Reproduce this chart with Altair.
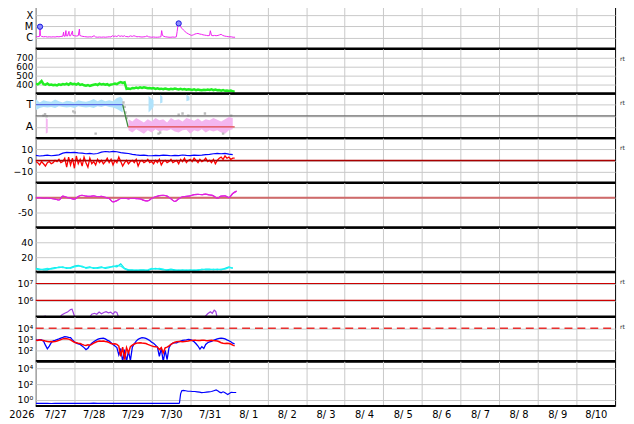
import json
import pandas as pd
import altair as alt

# ---------------- labels ----------------
DAY_LABELS = ["7/27", "7/28", "7/29", "7/30", "7/31", "8/ 1", "8/ 2", "8/ 3",
              "8/ 4", "8/ 5", "8/ 6", "8/ 7", "8/ 8", "8/ 9", "8/10"]
YEAR_LABEL = "2026"

# ---------------- panel 1: X-ray flux (units of 1e-6 W/m2) ----------------
XRAY = [(0.00, 1.2), (0.05, 1.25), (0.10, 1.3), (0.11, 9.6), (0.12, 1.6), (0.15, 1.3), (0.20, 1.2),
        (0.25, 1.25), (0.30, 1.15), (0.35, 1.2), (0.40, 1.15), (0.45, 1.2), (0.50, 1.15), (0.55, 1.25),
        (0.60, 1.2), (0.65, 1.3), (0.70, 1.35), (0.72, 3.1), (0.73, 1.4), (0.76, 1.35), (0.78, 4.3),
        (0.79, 1.5), (0.82, 1.4), (0.86, 3.7), (0.87, 1.5), (0.90, 1.45), (0.95, 4.0), (0.96, 1.6),
        (1.00, 1.5), (1.05, 1.4), (1.10, 1.5), (1.13, 6.0), (1.14, 1.6), (1.18, 1.4), (1.22, 1.3),
        (1.26, 1.25), (1.30, 1.2), (1.35, 1.15), (1.40, 1.2), (1.45, 1.15), (1.51, 1.5), (1.55, 1.15),
        (1.60, 1.1), (1.65, 1.15), (1.70, 1.1), (1.75, 1.15), (1.80, 1.1), (1.85, 1.15), (1.90, 1.2),
        (1.95, 1.15), (1.98, 1.5), (2.02, 1.3), (2.06, 1.4), (2.10, 1.25), (2.14, 1.6), (2.18, 1.3),
        (2.22, 1.45), (2.26, 1.3), (2.30, 1.5), (2.32, 1.3), (2.36, 1.25), (2.40, 1.2), (2.45, 1.45),
        (2.50, 1.3), (2.54, 1.5), (2.58, 1.35), (2.62, 1.2), (2.66, 1.25), (2.70, 1.2), (2.75, 1.15),
        (2.80, 1.2), (2.84, 1.25), (2.88, 1.45), (2.92, 1.2), (2.96, 1.15), (3.00, 1.1), (3.05, 1.15),
        (3.10, 1.1), (3.15, 1.1), (3.20, 1.15), (3.24, 1.2), (3.26, 4.3), (3.28, 1.6), (3.32, 1.3),
        (3.36, 1.2), (3.40, 1.15), (3.45, 1.1), (3.50, 1.1), (3.55, 1.15), (3.60, 1.1), (3.64, 1.2),
        (3.66, 3.5), (3.68, 12.0), (3.70, 19.0), (3.74, 11.0), (3.78, 7.0), (3.82, 5.0), (3.86, 3.7),
        (3.90, 2.8), (3.95, 2.2), (4.00, 1.8), (4.03, 1.6), (4.08, 1.8), (4.12, 2.1), (4.16, 2.3),
        (4.20, 2.4), (4.25, 2.1), (4.29, 2.0), (4.33, 1.8), (4.37, 1.7), (4.42, 1.6), (4.46, 1.5),
        (4.50, 1.6), (4.52, 4.2), (4.55, 1.6), (4.59, 1.5), (4.63, 1.6), (4.67, 1.5), (4.72, 1.6),
        (4.76, 1.8), (4.80, 2.0), (4.84, 1.6), (4.89, 1.4), (4.94, 1.3), (5.00, 1.2), (5.06, 1.2),
        (5.11, 1.1), (5.16, 1.1)]
FLARES = [(0.11, 9.6), (3.70, 19.0)]
XRAY_TICKS = [1, 10, 100]
XRAY_LABELS = ["C", "M", "X"]

# ---------------- panel 2: solar wind speed (every 0.05 day) ----------------
SPEED = [410, 402, 418, 440, 405, 398, 412, 395, 400, 392,
         398, 390, 402, 396, 405, 400, 410, 398, 415, 405,
         408, 400, 412, 396, 402, 392, 388, 395, 384, 392,
         398, 404, 395, 410, 400, 406, 398, 404, 392, 400,
         405, 412, 404, 420, 428, 418, 425, 352, 356, 350,
         362, 358, 366, 360, 368, 362, 370, 364, 358, 362,
         356, 360, 352, 358, 350, 354, 348, 355, 350, 346,
         352, 348, 355, 350, 346, 352, 344, 350, 342, 348,
         345, 340, 346, 338, 344, 340, 336, 342, 338, 344,
         340, 346, 338, 344, 336, 340, 332, 338, 330, 334,
         328, 332, 324, 320]
SPEED_TICKS = [400, 500, 600, 700]
SPEED_LABELS = ["400", "500", "600", "700"]

# ---------------- panel 3: IMF sector ----------------
SECTOR_TICKS = [-1, 0, 1]
SECTOR_LABELS = ["A", "", "T"]
TOWARD_T = [0.0, 0.1, 0.2, 0.3, 0.4, 0.5, 0.6, 0.7, 0.8, 0.9, 1.0, 1.1, 1.2, 1.3, 1.4, 1.5, 1.6,
            1.7, 1.8, 1.9, 2.0, 2.1, 2.2, 2.25]
TOWARD_HI = [1.5, 1.2, 1.4, 1.3, 1.25, 1.45, 1.3, 1.2, 1.35, 1.3, 1.2, 1.4, 1.3, 1.25, 1.35, 1.5,
             1.3, 1.45, 1.3, 1.4, 1.3, 1.6, 1.7, 1.5]
TOWARD_LO = [0.5, 0.7, 0.8, 0.75, 0.8, 0.7, 0.85, 0.8, 0.75, 0.8, 0.7, 0.85, 0.8, 0.75, 0.8, 0.7,
             0.85, 0.8, 0.9, 0.8, 0.75, 0.6, 0.4, 0.3]
TOWARD_EXTRA = [(2.92, 1.8, 0.3), (2.98, 1.6, 0.5), (3.05, 1.4, 0.8),
                (3.22, 1.9, 1.1), (3.28, 1.7, 1.2),
                (3.90, 1.9, 1.3), (3.98, 1.7, 1.4)]
AWAY_T = [2.4, 2.5, 2.6, 2.7, 2.8, 2.9, 3.0, 3.1, 3.2, 3.3, 3.4, 3.5, 3.6, 3.7, 3.8, 3.9, 4.0,
          4.1, 4.2, 4.3, 4.4, 4.5, 4.6, 4.7, 4.8, 4.9, 5.0, 5.1]
AWAY_HI = [-0.3, -0.5, -0.2, -0.4, -0.6, -0.3, -0.5, -0.2, -0.4, -0.3, -0.6, -0.2, -0.4, -0.3,
           -0.5, -0.2, -0.3, -0.45, -0.25, -0.5, -0.3, -0.4, -0.2, -0.35, -0.5, -0.3, -0.1, -0.2]
AWAY_LO = [-1.3, -1.5, -1.2, -1.4, -1.6, -1.3, -1.5, -1.2, -1.4, -1.3, -1.35, -1.2, -1.4, -1.5,
           -1.3, -1.25, -1.6, -1.3, -1.4, -1.2, -1.5, -1.3, -1.4, -1.3, -1.5, -1.6, -1.3, -1.2]
AWAY_EXTRA = [(0.26, -0.2, -1.6), (0.31, -0.3, -1.5)]
SECTOR_GRAY = [(0.20, 0.0), (0.24, 0.15), (0.28, -0.05), (0.97, 0.4), (1.01, 0.3), (1.55, -1.6),
               (2.27, 1.2), (2.30, 0.8), (2.32, 0.3), (2.35, -0.2), (3.18, -1.6), (3.22, -1.5),
               (3.70, 0.1), (3.80, 0.2), (3.95, 0.0), (4.38, 0.2), (4.85, -1.6), (5.06, 0.0)]
SECTOR_SWITCH = [2.25, 2.39]
DATA_END = 5.15

# ---------------- panel 4: Bt (0.1 day) and Bz (0.05 day) ----------------
BT = [4.5, 4.0, 4.3, 4.8, 4.2, 4.6, 5.0, 6.5, 7.2, 7.0,
      7.3, 6.8, 6.5, 6.0, 6.3, 5.8, 6.2, 7.5, 8.0, 7.6,
      8.2, 7.8, 7.0, 6.6, 6.2, 5.5, 5.0, 4.6, 4.8, 4.4,
      4.2, 4.6, 4.3, 4.8, 4.5, 4.2, 4.6, 4.4, 4.9, 4.5,
      4.3, 4.7, 4.5, 4.8, 5.2, 5.5, 6.0, 6.4, 6.0, 6.3,
      5.6, 5.2]
BZ = [-1, -2, -4, -1, -3, -5, -2, -1, -3, -2,
      0, -1, 1, -2, -1, 2, -6, 3, -4, 2,
      -7, 4, -3, 1, -5, 3, -2, -6, 2, -3,
      -1, -4, 1, -2, 0, -3, -1, 2, -2, 1,
      -4, 0, -2, 3, -1, -5, -2, 0, -3, -1,
      0, -2, 1, -5, -1, 0, -2, -1, 1, -2,
      -1, -3, 0, -2, 1, -4, -1, 0, -2, -1,
      1, -2, -1, 0, -3, 1, -1, 2, -2, 0,
      1, -1, 2, 0, -2, 1, -1, 0, 2, -1,
      0, -2, 1, -3, 0, 2, 3, 1, 4, 2,
      3, 1, 2, 2]
B_TICKS = [-10, 0, 10]
B_LABELS = ["\u221210", "0", "10"]

# ---------------- panel 5: Dst-like index (0.1 day) ----------------
DST = [-1, 0, -2, -1, -3, -5, -8, 5, 1, -2,
       -5, 4, 8, 5, 4, 6, 3, 4, 1, -3,
       -14, -10, -3, -2, -4, -2, -3, -4, -9, -11,
       -3, 3, 7, 8, 5, -4, -13, -4, 3, 4,
       6, 10, 11, 10, 12, 9, 6, -2, 5, 6,
       0, 14, 22]
DST_TICKS = [-50, 0]
DST_LABELS = ["-50", "0"]

# ---------------- panel 6: two cyan series (0.1 day) ----------------
CYAN_A = [5, 4, 3, 3, 5, 6, 6, 7, 5, 6,
          8, 9, 7, 6, 7, 5, 6, 7, 5, 6,
          8, 7, 11, 5, 3, 3, 2, 3, 3, 2,
          4, 5, 4, 3, 3, 4, 3, 2, 3, 2,
          3, 2, 3, 3, 4, 4, 3, 4, 3, 5,
          7, 5]
CYAN_B = [4, 3, 4, 5, 4, 5, 7, 6, 6, 5,
          7, 8, 8, 5, 6, 6, 5, 6, 6, 7,
          7, 9, 8, 4, 2, 2, 3, 2, 2, 3,
          5, 4, 5, 4, 2, 3, 2, 3, 2, 3,
          2, 3, 2, 4, 3, 3, 4, 3, 4, 4,
          6, 6]
CYAN_TICKS = [20, 40]
CYAN_LABELS = ["20", "40"]

# ---------------- panel 7: purple flux ----------------
PURPLE = [(0.00, 9e4), (0.15, 9e4), (0.20, 1.1e5), (0.25, 1.15e5), (0.30, 9e4), (0.60, 9e4),
          (0.68, 1.4e5), (0.75, 1.7e5), (0.82, 2.0e5), (0.90, 2.8e5), (0.94, 3.0e5), (0.98, 1.6e5),
          (1.02, 9e4), (1.38, 9e4), (1.45, 1.5e5), (1.52, 1.7e5), (1.58, 1.5e5), (1.64, 2.0e5),
          (1.70, 1.6e5), (1.76, 1.9e5), (1.82, 2.1e5), (1.88, 1.8e5), (1.94, 2.0e5), (2.00, 1.5e5),
          (2.05, 2.1e5), (2.10, 1.9e5), (2.15, 9e4), (2.80, 9e4), (2.85, 1.1e5), (2.90, 9e4),
          (4.35, 9e4), (4.45, 1.6e5), (4.52, 2.1e5), (4.57, 1.7e5), (4.62, 2.6e5), (4.66, 2.2e5),
          (4.70, 9e4), (5.15, 9e4)]
P7_THRESH = [1e6, 1e7]
P7_TICKS = [1e6, 1e7]
P7_LABELS = ["10\u2076", "10\u2077"]

# ---------------- panel 8: blue and red flux (0.05 day) ----------------
FLUX_BLUE = [900, 850, 950, 880, 700, 300, 140, 250, 500, 750,
             800, 950, 1100, 1300, 1500, 1750, 1700, 1500, 1450, 900,
             600, 450, 400, 350, 250, 180, 120, 160, 300, 450,
             600, 800, 1000, 1150, 1250, 1300, 1100, 850, 700, 500,
             350, 250, 180, 40, 150, 10, 120, 10, 90, 12,
             200, 400, 700, 1000, 1250, 1400, 1350, 1200, 1000, 800,
             550, 450, 300, 200, 30, 150, 10, 100, 15, 180,
             350, 450, 500, 480, 600, 700, 800, 850, 900, 1000,
             950, 800, 600, 400, 250, 130, 220, 150, 350, 500,
             600, 650, 800, 950, 1100, 1250, 1300, 1250, 1100, 900,
             750, 600, 450, 380]
FLUX_RED = [850, 800, 900, 820, 780, 700, 650, 600, 650, 620,
            640, 700, 800, 950, 1100, 1200, 1150, 1050, 900, 700,
            550, 500, 450, 420, 350, 300, 280, 320, 290, 350,
            450, 550, 650, 700, 680, 720, 650, 600, 500, 420,
            380, 400, 350, 250, 30, 200, 15, 180, 60, 220,
            300, 380, 450, 480, 500, 460, 450, 420, 350, 300,
            260, 230, 220, 200, 120, 180, 60, 170, 200, 260,
            350, 450, 550, 620, 650, 640, 600, 630, 680, 720,
            780, 800, 850, 820, 800, 780, 820, 850, 800, 760,
            800, 820, 780, 750, 700, 600, 500, 450, 420, 450,
            420, 380, 300, 260]
P8_THRESH = 1e4
P8_TICKS = [100, 1000, 10000]
P8_LABELS = ["10\u00b2", "10\u00b3", "10\u2074"]

# ---------------- panel 9: blue flux ----------------
LOWFLUX = [(0.0, 0.37), (0.1, 0.36), (0.2, 0.38), (0.3, 0.37), (0.4, 0.35), (0.5, 0.37), (0.6, 0.38),
           (0.7, 0.36), (0.8, 0.37), (0.9, 0.36), (1.0, 0.38), (1.1, 0.37), (1.2, 0.36), (1.3, 0.38),
           (1.4, 0.37), (1.5, 0.39), (1.6, 0.37), (1.7, 0.36), (1.8, 0.38), (1.9, 0.37), (2.0, 0.36),
           (2.1, 0.37), (2.2, 0.38), (2.3, 0.36), (2.4, 0.37), (2.5, 0.36), (2.6, 0.38), (2.7, 0.37),
           (2.8, 0.36), (2.9, 0.37), (3.0, 0.38), (3.1, 0.36), (3.2, 0.37), (3.3, 0.36), (3.4, 0.38),
           (3.5, 0.37), (3.6, 0.36), (3.7, 0.37), (3.72, 0.4), (3.75, 6), (3.78, 15), (3.82, 17),
           (3.88, 15), (3.94, 13), (4.00, 13), (4.06, 12), (4.12, 12), (4.18, 11), (4.24, 10),
           (4.29, 8.5), (4.35, 9), (4.42, 10), (4.48, 11), (4.55, 12), (4.61, 15), (4.67, 19),
           (4.72, 14), (4.76, 10), (4.80, 8), (4.85, 11), (4.89, 9), (4.94, 6), (4.97, 5),
           (5.02, 7), (5.06, 9.5), (5.12, 9), (5.19, 9)]
P9_TICKS = [1, 100, 10000]
P9_LABELS = ["10\u2070", "10\u00b2", "10\u2074"]

# ---------------- layout helpers ----------------
W, H = 584, 45
GRID = "#c8c8c8"
FONT = "DejaVu Sans"
ONE = pd.DataFrame({"k": [0]})
XS = alt.Scale(domain=[0, 15], nice=False, zero=False)


def label_expr(vals, labs):
    s = ""
    for v, l in zip(vals, labs):
        s += f"datum.value == {v} ? {json.dumps(l, ensure_ascii=False)} : "
    return s + "''"


def x_axis(bottom=False):
    if bottom:
        return alt.Axis(values=list(range(15)), grid=True, gridColor=GRID, ticks=False, domain=False,
                        labelExpr=json.dumps(DAY_LABELS) + "[datum.value]", labelOffset=19.5,
                        labelPadding=4, labelFlush=False, labelOverlap=False, labelAngle=0,
                        labelFontSize=10, title=None)
    return alt.Axis(values=list(range(15)), grid=True, gridColor=GRID, ticks=False, domain=False,
                    labels=False, title=None)


def y_axis(vals, labs, size=9.5):
    return alt.Axis(values=vals, labelExpr=label_expr(vals, labs), grid=True, gridColor=GRID,
                    ticks=False, domain=False, labelPadding=3, title=None, labelFlush=False,
                    labelOverlap=False, labelFontSize=size)


def series(times, values):
    return pd.DataFrame({"t": times, "v": values})


def step_times(n, step):
    return [round(step * i, 3) for i in range(n)]


def divider(width=2.5):
    return alt.Chart(ONE).mark_rule(color="black", strokeWidth=width).encode(
        x=alt.value(0), x2=alt.value(W), y=alt.value(H))


def rt():
    return alt.Chart(ONE).mark_text(text="rt", fontSize=6, align="left", baseline="middle",
                                    color="#222222").encode(x=alt.value(W + 5), y=alt.value(10))


def hline(scale, yax, value, color, width=1.0, dash=None):
    kw = dict(color=color, strokeWidth=width)
    if dash:
        kw["strokeDash"] = dash
    return alt.Chart(ONE).mark_rule(**kw).encode(
        x=alt.value(0), x2=alt.value(W),
        y=alt.YDatum(value, type="quantitative", scale=scale, axis=yax))


def line(df, scale, yax, xax, color, width=1.0, interp="linear"):
    return alt.Chart(df).mark_line(color=color, strokeWidth=width, clip=True, interpolate=interp).encode(
        x=alt.X("t:Q", scale=XS, axis=xax),
        y=alt.Y("v:Q", scale=scale, axis=yax))


XA = x_axis()

# ---------------- panel 1 ----------------
S1 = alt.Scale(type="log", domain=[0.1, 1000], nice=False)
Y1 = y_axis(XRAY_TICKS, XRAY_LABELS, 10)
xr = series([p[0] for p in XRAY], [p[1] for p in XRAY])
fl = series([p[0] for p in FLARES], [p[1] for p in FLARES])
p1 = alt.layer(
    line(xr, S1, Y1, XA, "#f020f0", 1.0),
    alt.Chart(fl).mark_circle(size=28, color="#8c8cff", stroke="#1a1add", strokeWidth=1, opacity=1).encode(
        x=alt.X("t:Q", scale=XS, axis=XA), y=alt.Y("v:Q", scale=S1, axis=Y1)),
    divider(),
).properties(width=W, height=H)

# ---------------- panel 2 ----------------
S2 = alt.Scale(domain=[300, 800], nice=False, zero=False)
Y2 = y_axis(SPEED_TICKS, SPEED_LABELS, 9)
sp = series(step_times(len(SPEED), 0.05), SPEED)
p2 = alt.layer(
    line(sp, S2, Y2, XA, "#22ee22", 2.5),
    divider(), rt(),
).properties(width=W, height=H)

# ---------------- panel 3 ----------------
S3 = alt.Scale(domain=[-2, 2], nice=False, zero=False)
Y3 = y_axis(SECTOR_TICKS, SECTOR_LABELS, 11)
tow = pd.DataFrame({"t": TOWARD_T, "hi": TOWARD_HI, "lo": TOWARD_LO, "g": 0})
tow_x = pd.DataFrame({"t": [e[0] for e in TOWARD_EXTRA], "hi": [e[1] for e in TOWARD_EXTRA],
                      "lo": [e[2] for e in TOWARD_EXTRA], "g": [1, 1, 1, 2, 2, 3, 3]})
tow_all = pd.concat([tow, tow_x], ignore_index=True)
away = pd.DataFrame({"t": AWAY_T, "hi": AWAY_HI, "lo": AWAY_LO, "g": 0})
away_x = pd.DataFrame({"t": [e[0] for e in AWAY_EXTRA], "hi": [e[1] for e in AWAY_EXTRA],
                       "lo": [e[2] for e in AWAY_EXTRA], "g": 1})
away_all = pd.concat([away, away_x], ignore_index=True)
gray = series([g[0] for g in SECTOR_GRAY], [g[1] for g in SECTOR_GRAY])
sec_blue = series([0, SECTOR_SWITCH[0]], [1, 1])
sec_green = series(SECTOR_SWITCH, [1, -1])
sec_red = series([SECTOR_SWITCH[1], DATA_END], [-1, -1])


def band(df, color):
    return alt.Chart(df).mark_area(color=color, opacity=1, clip=True).encode(
        x=alt.X("t:Q", scale=XS, axis=XA),
        y=alt.Y("hi:Q", scale=S3, axis=Y3), y2="lo:Q", detail="g:N")


p3 = alt.layer(
    band(tow_all, "#b0e2fb"),
    band(away_all, "#f4b6f0"),
    alt.Chart(gray).mark_square(size=6, color="#bbbbbb", opacity=1, clip=True).encode(
        x=alt.X("t:Q", scale=XS, axis=XA), y=alt.Y("v:Q", scale=S3, axis=Y3)),
    hline(S3, Y3, 0, "#707070", 1.2),
    line(sec_blue, S3, Y3, XA, "#5a6ee6", 1.3),
    line(sec_green, S3, Y3, XA, "#3c8a3c", 1.3),
    line(sec_red, S3, Y3, XA, "#e04848", 1.3),
    divider(), rt(),
).properties(width=W, height=H)

# ---------------- panel 4 ----------------
S4 = alt.Scale(domain=[-20, 20], nice=False, zero=False)
Y4 = y_axis(B_TICKS, B_LABELS)
bt = series(step_times(len(BT), 0.1), BT)
bz = series(step_times(len(BZ), 0.05), BZ)
p4 = alt.layer(
    line(bt, S4, Y4, XA, "#0000ff", 1.2),
    line(bz, S4, Y4, XA, "#ff0000", 1.3),
    hline(S4, Y4, 0, "#aa0000", 1.5),
    divider(), rt(),
).properties(width=W, height=H)

# ---------------- panel 5 ----------------
S5 = alt.Scale(domain=[-100, 50], nice=False, zero=False)
Y5 = y_axis(DST_TICKS, DST_LABELS)
dst = series(step_times(len(DST), 0.1), DST)
p5 = alt.layer(
    line(dst, S5, Y5, XA, "#e020e0", 1.2, "monotone"),
    hline(S5, Y5, 0, "#d06a6a", 2.0),
    line(dst, S5, Y5, XA, "#e020e0", 1.2, "monotone"),
    divider(),
).properties(width=W, height=H)

# ---------------- panel 6 ----------------
S6 = alt.Scale(domain=[0, 60], nice=False, zero=False)
Y6 = y_axis(CYAN_TICKS, CYAN_LABELS)
ca = series(step_times(len(CYAN_A), 0.1), CYAN_A)
cb = series(step_times(len(CYAN_B), 0.1), CYAN_B)
p6 = alt.layer(
    line(ca, S6, Y6, XA, "#00eaea", 1.2),
    line(cb, S6, Y6, XA, "#20f4f4", 1.2),
    divider(),
).properties(width=W, height=H)

# ---------------- panel 7 ----------------
S7 = alt.Scale(type="log", domain=[1.07e5, 4.8e7], nice=False)
Y7 = y_axis(P7_TICKS, P7_LABELS)
pu = series([p[0] for p in PURPLE], [p[1] for p in PURPLE])
p7 = alt.layer(
    line(pu, S7, Y7, XA, "#a040e0", 1.2),
    hline(S7, Y7, P7_THRESH[0], "#cc0000", 1.2),
    hline(S7, Y7, P7_THRESH[1], "#cc0000", 1.2),
    divider(), rt(),
).properties(width=W, height=H)

# ---------------- panel 8 ----------------
S8 = alt.Scale(type="log", domain=[10.5, 1.1e5], nice=False)
Y8 = y_axis(P8_TICKS, P8_LABELS)
fb = series(step_times(len(FLUX_BLUE), 0.05), FLUX_BLUE)
fr = series(step_times(len(FLUX_RED), 0.05), FLUX_RED)
p8 = alt.layer(
    line(fb, S8, Y8, XA, "#0000ff", 1.3),
    line(fr, S8, Y8, XA, "#ff0000", 1.5),
    hline(S8, Y8, P8_THRESH, "#e8302f", 1.5, [8, 5]),
    divider(), rt(),
).properties(width=W, height=H)

# ---------------- panel 9 ----------------
S9 = alt.Scale(type="log", domain=[0.17, 8.7e4], nice=False)
Y9 = y_axis(P9_TICKS, P9_LABELS)
lf = series([p[0] for p in LOWFLUX], [p[1] for p in LOWFLUX])
p9 = alt.layer(
    line(lf, S9, Y9, x_axis(bottom=True), "#0000ff", 1.2),
    divider(2),
    alt.Chart(ONE).mark_text(text=YEAR_LABEL, fontSize=10, align="center", baseline="top",
                             color="black").encode(x=alt.value(-14), y=alt.value(H + 4)),
).properties(width=W, height=H)

chart = alt.vconcat(
    p1, p2, p3, p4, p5, p6, p7, p8, p9,
    spacing=0, bounds="flush",
    padding={"left": 0, "top": -6.5, "right": 0, "bottom": 0},
).configure_view(
    stroke="black", strokeWidth=1
).configure_axis(
    labelFont=FONT, labelColor="black"
).configure_text(font=FONT)

chart.save("out.html", embed_options={"renderer": "svg", "actions": False})
